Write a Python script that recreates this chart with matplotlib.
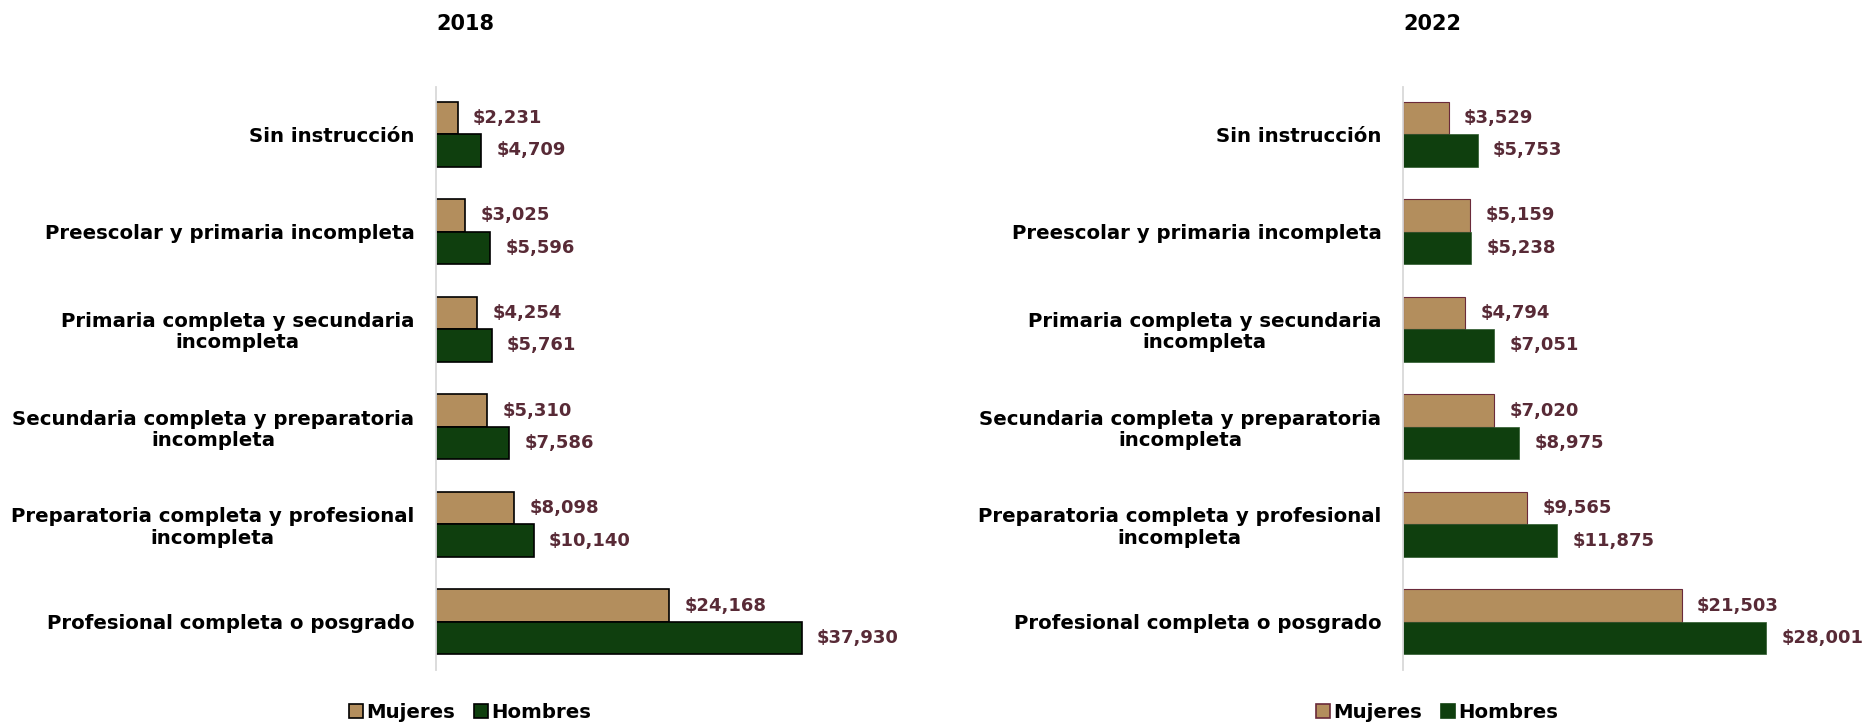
import matplotlib
matplotlib.use("Agg")
import matplotlib.pyplot as plt
import matplotlib.patches as mpatches
import numpy as np

# ---------------------------------------------------------------------
# Data: monthly income by schooling level and sex
# ---------------------------------------------------------------------
CATEGORIES = [
    "Sin instrucción",
    "Preescolar y primaria incompleta",
    "Primaria completa y secundaria\nincompleta",
    "Secundaria completa y preparatoria\nincompleta",
    "Preparatoria completa y profesional\nincompleta",
    "Profesional completa o posgrado",
]
MUJERES_2018 = [2231, 3025, 4254, 5310, 8098, 24168]
HOMBRES_2018 = [4709, 5596, 5761, 7586, 10140, 37930]
MUJERES_2022 = [3529, 5159, 4794, 7020, 9565, 21503]
HOMBRES_2022 = [5753, 5238, 7051, 8975, 11875, 28001]

TAN = "#B38E5D"
GREEN = "#0F3F0E"
LABEL_COLOR = "#582A36"
AXIS_GRAY = "#D9D9D9"

plt.rcParams["font.family"] = ["DejaVu Sans"]
plt.rcParams["font.weight"] = "bold"

W, H = 1867, 724
fig = plt.figure(figsize=(W / 100, H / 100), dpi=100)


def px_axes(x0, x1, y_top, y_bot):
    return fig.add_axes([x0 / W, 1 - y_bot / H, (x1 - x0) / W, (y_bot - y_top) / H])


def draw_panel(ax, mujeres, hombres, xmax, styles):
    y = np.arange(len(CATEGORIES))
    bh = 0.333
    m_style, h_style = styles
    ax.barh(y - bh / 2, mujeres, height=bh, color=TAN, **m_style)
    ax.barh(y + bh / 2, hombres, height=bh, color=GREEN, **h_style)
    for yi, v in zip(y - bh / 2, mujeres):
        ax.annotate(f"${v:,}", (v, yi), xytext=(11, 0), textcoords="offset points",
                    ha="left", va="center", fontsize=13, fontweight="bold",
                    color=LABEL_COLOR)
    for yi, v in zip(y + bh / 2, hombres):
        ax.annotate(f"${v:,}", (v, yi), xytext=(11, 0), textcoords="offset points",
                    ha="left", va="center", fontsize=13, fontweight="bold",
                    color=LABEL_COLOR)
    ax.set_xlim(0, xmax)
    ax.set_ylim(5.492, -0.482)
    ax.set_yticks(y)
    ax.set_yticklabels(CATEGORIES, fontsize=14.2, fontweight="bold",
                       multialignment="center", linespacing=1.15)
    ax.tick_params(axis="y", length=0, pad=15.5)
    ax.set_xticks([])
    for s in ("top", "right", "bottom"):
        ax.spines[s].set_visible(False)
    ax.spines["left"].set_color(AXIS_GRAY)
    ax.spines["left"].set_linewidth(1.3)


# ---------------------------------------------------------------------
# (left) 2018
# ---------------------------------------------------------------------
ax1 = px_axes(436, 436 + 482, 87, 670)
left_styles = (dict(edgecolor="black", linewidth=1.2),
               dict(edgecolor="black", linewidth=1.2))
draw_panel(ax1, MUJERES_2018, HOMBRES_2018, 50000, left_styles)
fig.text(436 / W, 1 - 24 / H, "2018", ha="left", va="center",
         fontsize=15, fontweight="bold")

# ---------------------------------------------------------------------
# (right) 2022
# ---------------------------------------------------------------------
ax2 = px_axes(1403, 1403 + 389, 87, 670)
right_styles = (dict(edgecolor="#6A2A3A", linewidth=0.8),
                dict(edgecolor="#2E5A2C", linewidth=0.5))
draw_panel(ax2, MUJERES_2022, HOMBRES_2022, 30000, right_styles)
fig.text(1403 / W, 1 - 24 / H, "2022", ha="left", va="center",
         fontsize=15, fontweight="bold")

# ---------------------------------------------------------------------
# Legends
# ---------------------------------------------------------------------
def add_legend(cx, m_edge, h_edge):
    handles = [mpatches.Patch(facecolor=TAN, edgecolor=m_edge, linewidth=1.2, label="Mujeres"),
               mpatches.Patch(facecolor=GREEN, edgecolor=h_edge, linewidth=1.2, label="Hombres")]
    fig.legend(handles=handles, loc="center", bbox_to_anchor=(cx / W, 1 - 712 / H),
               ncol=2, frameon=False, handlelength=0.7, handleheight=0.7,
               handletextpad=0.15, columnspacing=1.0,
               prop=dict(size=14.2, weight="bold"))


add_legend(470, "black", "black")
add_legend(1437, "#6A2A3A", GREEN)

fig.savefig("out.png", dpi=100)
